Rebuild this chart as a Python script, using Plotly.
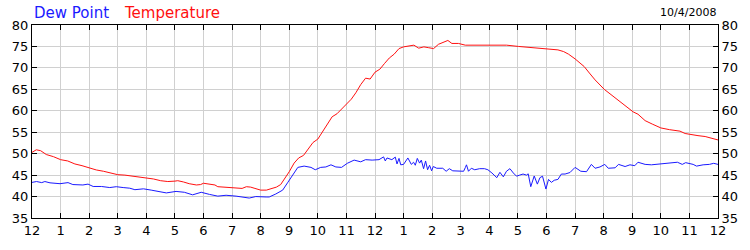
import plotly.graph_objects as go

hour_labels = ["12", "1", "2", "3", "4", "5", "6", "7", "8", "9", "10", "11",
               "12", "1", "2", "3", "4", "5", "6", "7", "8", "9", "10", "11", "12"]

temp_hours = [0.0, 0.15, 0.3, 0.5, 0.75, 1.0, 1.25, 1.5, 1.75, 2.0, 2.25, 2.5, 2.75, 3.0,
              3.25, 3.5, 3.75, 4.0, 4.25, 4.5, 4.75, 5.0, 5.1, 5.3, 5.5, 5.75, 5.9, 6.0,
              6.2, 6.4, 6.5, 6.75, 7.0, 7.2, 7.35, 7.5, 7.65, 7.8, 8.0, 8.2, 8.4, 8.55,
              8.7, 8.83, 9.0, 9.17, 9.33, 9.5, 9.67, 9.83, 10.0, 10.17, 10.33, 10.5,
              10.67, 10.83, 11.0, 11.17, 11.33, 11.5, 11.67, 11.83, 12.0, 12.17, 12.33,
              12.5, 12.67, 12.84, 13.0, 13.2, 13.36, 13.53, 13.71, 13.88, 14.05, 14.22,
              14.4, 14.55, 14.69, 14.92, 15.16, 15.5, 16.0, 16.32, 16.6, 17.02, 17.36,
              17.7, 18.06, 18.4, 18.6, 18.77, 19.0, 19.15, 19.32, 19.5, 19.7, 20.02,
              20.4, 20.75, 21.03, 21.2, 21.45, 21.7, 22.0, 22.3, 22.67, 22.85, 23.0,
              23.3, 23.55, 23.8, 24.0]
temperature = [50.3, 50.9, 50.7, 49.8, 49.3, 48.6, 48.3, 47.6, 47.2, 46.7, 46.2, 45.9, 45.5, 45.1,
               45.0, 44.8, 44.5, 44.4, 44.1, 43.7, 43.5, 43.6, 43.7, 43.4, 43.0, 42.7, 42.8, 43.1,
               42.9, 42.7, 42.3, 42.2, 42.2, 42.1, 41.9, 42.3, 42.2, 41.9, 41.5, 41.5, 41.8, 42.2,
               42.8, 44.0, 45.8, 47.8, 49.0, 49.6, 51.2, 52.6, 53.4, 55.2, 57.1, 58.6,
               59.3, 60.4, 61.5, 62.7, 64.2, 66.1, 67.6, 67.4, 69.0, 69.7, 71.0,
               72.3, 73.2, 74.5, 74.9, 75.1, 75.3, 74.6, 74.9, 74.7, 74.5, 75.5,
               75.9, 76.4, 75.7, 75.7, 75.3, 75.3, 75.3, 75.4, 75.3, 75.0, 74.8,
               74.7, 74.5, 74.2, 73.8, 73.2, 72.1, 71.3, 70.3, 68.8, 67.2, 65.0,
               63.1, 61.3, 59.75, 59.2, 57.7, 56.9, 56.0, 55.6, 55.25, 54.7, 54.5,
               54.2, 54.0, 53.6, 53.2]

dew_hours = [0.0, 0.16, 0.34, 0.45, 0.63, 0.98, 1.26, 1.43, 1.78, 1.96, 2.14, 2.43, 2.72, 2.95,
             3.19, 3.42, 3.6, 3.9, 4.17, 4.46, 4.7, 5.04, 5.33, 5.62, 5.92, 6.21, 6.5, 6.79,
             7.14, 7.6, 7.83, 8.19, 8.3, 8.53, 8.77, 8.94, 9.12, 9.3, 9.52, 9.76, 9.91,
             10.1, 10.28, 10.46, 10.63, 10.83, 11.03, 11.27, 11.5, 11.67, 11.9, 12.14,
             12.3, 12.36, 12.42, 12.59, 12.71, 12.77, 12.84, 12.9, 13.0, 13.15, 13.27,
             13.35, 13.41, 13.48, 13.56, 13.62, 13.7, 13.77, 13.84, 13.91, 13.98, 14.04,
             14.16, 14.37, 14.49, 14.6, 14.72, 14.98, 15.1, 15.16, 15.2, 15.27, 15.37,
             15.49, 15.66, 15.83, 15.95, 16.09, 16.26, 16.37, 16.49, 16.6, 16.72, 16.84,
             16.95, 17.06, 17.18, 17.3, 17.36, 17.45, 17.57, 17.68, 17.77, 17.86, 17.98,
             18.07, 18.17, 18.27, 18.4, 18.52, 18.65, 18.82, 19.0, 19.2, 19.4, 19.57,
             19.7, 19.87, 20.04, 20.16, 20.4, 20.52, 20.75, 20.92, 21.09, 21.2, 21.45,
             21.67, 22.0, 22.35, 22.58, 22.75, 22.87, 23.13, 23.25, 23.48, 23.7, 23.85,
             24.0]
dew_point = [43.3, 43.5, 43.25, 43.5, 43.2, 43.0, 43.25, 42.8, 42.7, 42.9, 42.35, 42.35, 42.1, 42.3,
             42.1, 41.95, 41.6, 41.8, 41.5, 41.2, 40.85, 41.2, 41.0, 40.4, 41.0, 40.5, 40.1, 40.3,
             40.1, 39.65, 40.0, 39.9, 39.9, 40.6, 41.5, 43.2, 45.1, 46.8, 47.1, 46.8, 46.25,
             46.8, 46.9, 47.4, 46.9, 46.8, 47.75, 48.5, 48.1, 48.6, 48.5, 48.6,
             49.25, 48.3, 49.0, 48.6, 49.2, 47.6, 48.9, 47.4, 47.5, 49.0, 47.5,
             48.0, 47.3, 48.9, 47.8, 48.5, 46.5, 48.3, 46.25, 47.3, 46.0, 47.0,
             46.6, 46.6, 45.9, 46.5, 46.0, 46.0, 45.9, 46.75, 47.4, 45.9, 46.6,
             46.25, 46.5, 46.5, 46.25, 45.5, 44.4, 45.65, 44.6, 45.9, 46.5, 45.5,
             44.75, 45.0, 45.25, 45.0, 45.3, 42.3, 44.8, 42.9, 44.4, 44.75, 41.75,
             44.0, 43.3, 43.8, 44.0, 45.25, 45.25, 45.6, 46.8, 45.9, 45.8, 47.5,
             46.6, 46.9, 47.5, 46.6, 46.7, 47.5, 47.0, 47.4, 47.2, 48.0, 47.5,
             47.4, 47.6, 47.75, 48.0, 47.5, 47.9, 47.5, 47.1, 47.4, 47.5, 47.75,
             47.5]

font_family = "DejaVu Sans"
grid_color = "#d0d0d0"
tick_font = dict(family=font_family, size=13, color="#000000")

fig = go.Figure()
fig.add_trace(go.Scatter(x=temp_hours, y=temperature, mode="lines",
                         line=dict(color="#ff1010", width=1), name="Temperature",
                         showlegend=False))
fig.add_trace(go.Scatter(x=dew_hours, y=dew_point, mode="lines",
                         line=dict(color="#1a1aff", width=1), name="Dew Point",
                         showlegend=False))
# invisible trace to anchor mirrored axes
fig.add_trace(go.Scatter(x=[0], y=[35], xaxis="x2", yaxis="y2", mode="markers",
                         marker=dict(opacity=0), showlegend=False, hoverinfo="skip"))

fig.update_layout(
    width=750, height=250,
    margin=dict(l=32, r=30, t=25, b=25),
    paper_bgcolor="white", plot_bgcolor="white",
    xaxis=dict(range=[0, 24], tickvals=list(range(25)), ticktext=hour_labels,
               showgrid=True, gridcolor=grid_color, gridwidth=1,
               showline=True, linecolor="black", linewidth=1,
               ticks="inside", ticklen=5, tickcolor="black",
               tickfont=tick_font, zeroline=False, fixedrange=True),
    yaxis=dict(range=[35, 80], tickvals=list(range(35, 81, 5)),
               showgrid=True, gridcolor=grid_color, gridwidth=1,
               showline=True, linecolor="black", linewidth=1,
               ticks="inside", ticklen=5, tickcolor="black",
               tickfont=tick_font, zeroline=False, fixedrange=True),
    xaxis2=dict(range=[0, 24], tickvals=list(range(25)), overlaying="x", side="top",
                showticklabels=False, showgrid=False, showline=True, linecolor="black",
                linewidth=1, ticks="inside", ticklen=5, tickcolor="black", zeroline=False),
    yaxis2=dict(range=[35, 80], tickvals=list(range(35, 81, 5)), overlaying="y",
                side="right", showgrid=False, showline=True, linecolor="black",
                linewidth=1, ticks="inside", ticklen=5, tickcolor="black",
                tickfont=tick_font, zeroline=False),
)

fig.add_annotation(text="Dew Point", xref="paper", yref="paper", x=0.0, y=1.0,
                   xanchor="left", yanchor="bottom", yshift=1, showarrow=False,
                   font=dict(family=font_family, size=15, color="#1a1aff"))
fig.add_annotation(text="Temperature", xref="paper", yref="paper", x=90 / 688, y=1.0,
                   xanchor="left", yanchor="bottom", yshift=1, showarrow=False,
                   font=dict(family=font_family, size=15, color="#ff1010"))
fig.add_annotation(text="10/4/2008", xref="paper", yref="paper", x=1.0, y=1.0,
                   xanchor="right", yanchor="bottom", yshift=4, showarrow=False,
                   font=dict(family=font_family, size=11, color="#000000"))

fig.write_html("out.html")
